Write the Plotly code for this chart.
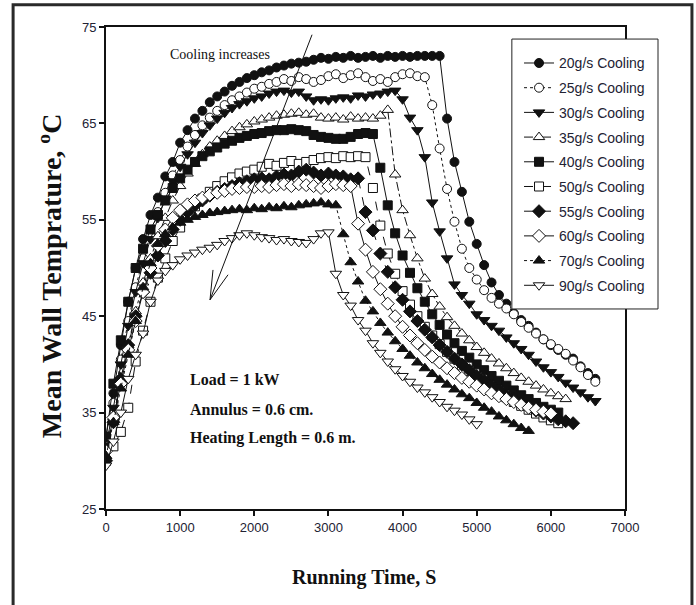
import plotly.graph_objects as go

# Mean wall temperature (deg C) sampled every 100 s, one list per cooling flow rate
step_s = 100

temp_20 = [32.5, 37, 42, 46.5, 50, 53, 55.5, 57.3, 59.5, 61, 63, 64.3, 65.5, 66.3, 67.2, 67.8,
           68.3, 68.9, 69.3, 69.7, 70, 70.3, 70.5, 70.8, 71, 71.2, 71.3, 71.4, 71.6, 71.8, 71.7,
           71.9, 71.8, 72, 71.8, 71.9, 72, 71.8, 72, 71.9, 72, 71.9, 72, 72, 72, 72,
           65.5, 61, 57.9, 54.8, 52.5, 50.3, 48.5, 47.2, 46.3, 45.3, 44.6, 44, 43.3, 42.6, 42,
           41.5, 41, 40.6, 39.8, 39.1, 38.5]
temp_25 = [31, 36, 40.5, 44.5, 48, 51, 53.5, 55.8, 57.8, 59.6, 61.2, 62.6, 63.8, 64.8, 65.6,
           66.3, 66.9, 67.4, 67.8, 68.2, 68.6, 68.8, 69.1, 69.3, 69.6, 69.4, 69.8, 69.6, 69.3,
           69.5, 69.9, 70.1, 69.7, 70, 70.2, 69.8, 69.4, 69.6, 69.3, 69.8, 70.1, 70.2, 69.9, 69.8,
           66.9, 62.4, 58.2, 54.8, 52, 50, 48.8, 47.7, 46.9, 46.3, 45.8, 45.2, 44.4, 43.8, 43.2,
           42.6, 42.1, 41.6, 41.1, 40.4, 39.7, 38.9, 38.2]
temp_30 = [31.5, 35.5, 40, 44, 47.5, 50.5, 53, 55.2, 57.2, 59, 60.5, 61.8, 63, 64, 64.8, 65.5,
           66.1, 66.6, 67, 67.3, 67.6, 67.8, 68.1, 68.3, 68.4, 68.2, 68.3, 67.8, 67.4, 67.5, 67.4,
           67.6, 67.7, 67.6, 67.9, 67.8, 68, 68.1, 68.3, 68.4, 67.5,
           65.6, 64.3, 61.5, 56.8, 53.8, 51, 48.3, 47.2, 46.3, 45.2, 44.6, 44, 43.5, 42.8, 42.2,
           41.6, 41, 40.3, 39.7, 39.2, 38.7, 38.1, 37.6, 37.1, 36.6, 36.2]
temp_35 = [30.5, 34.5, 38.5, 42, 45.5, 48.5, 51, 53.3, 55.2, 57, 58.5, 59.8, 60.8, 61.8, 62.6,
           63.2, 63.7, 64.2, 64.6, 64.9, 65.2, 65.4, 65.6, 65.8, 65.9, 66, 66.1, 65.9, 66, 65.6,
           65.5, 65.6, 65.4, 65.7, 65.5, 65.6, 65.5, 65.8, 66.4,
           59.7, 56, 53.4, 51, 48.9, 47.3, 46, 44.9, 44, 43.2, 42.5, 41.8, 41.2, 40.6, 40.1, 39.6,
           39.1, 38.6, 38.2, 37.8, 37.4, 37, 36.7, 36.4]
temp_40 = [32.5, 38, 42.5, 46.5, 50, 52, 54, 55.5, 57, 58.3, 59.3, 60.2, 61, 61.6, 62.1, 62.5,
           62.9, 63.2, 63.5, 63.7, 63.9, 64, 64.2, 64.3, 64.3, 64.4, 64.3, 64.2, 63.8, 63.6, 63.5,
           63.4, 63.4, 63.6, 63.9, 64, 63.9,
           60.4, 56.5, 53.6, 51.3, 49.5, 47.9, 46.5, 45.2, 44.1, 43.1, 42.2, 41.4, 40.7, 40, 39.4,
           38.8, 38.3, 37.8, 37.3, 36.8, 36.4, 36, 35.6, 35.3, 35]
temp_50 = [30, 31.5, 33, 35.5, 40.3, 43.5, 46.5, 49, 51, 52.8, 54.2, 55.4, 56.4, 57.2, 57.9,
           58.5, 59, 59.4, 59.8, 60, 60.2, 60.5, 60.8, 60.6, 60.9, 61.1, 60.8, 61, 61.2, 61.4,
           61.5, 61.4, 61.6, 61.5, 61.6, 61.5,
           58.3, 54.4, 51.5, 49.4, 47.6, 46.2, 45, 43.9, 43, 42.1, 41.3, 40.6, 39.9, 39.3, 38.7,
           38.1, 37.6, 37.1, 36.6, 36.1, 35.7, 35.3, 34.9, 34.5, 34.2, 33.9]
temp_55 = [30, 34, 38.5, 42, 45, 47.5, 49.5, 51.3, 52.8, 54, 55, 55.8, 56.5, 57, 57.5, 57.9,
           58.2, 58.5, 58.8, 59, 59.2, 59.3, 59.2, 59.5, 59.7, 59.6, 60, 60.2, 59.9, 59.6, 59.8,
           59.6, 59.5, 59.2, 59.3,
           55.8, 53.9, 51.5, 49.6, 48, 46.7, 45.5, 44.5, 43.6, 42.8, 42, 41.3, 40.6, 40, 39.4,
           38.8, 38.3, 37.8, 37.3, 36.8, 36.4, 36, 35.6, 35.2, 34.9, 34.6, 34.3, 34.1, 33.9]
temp_60 = [31, 34.5, 38, 41.5, 44.5, 47.5, 50, 52.3, 54, 55.2, 56, 56.6, 57, 57.3, 57.6, 57.8,
           58, 58.2, 58.3, 58.4, 58.4, 58.5, 58.4, 58.6, 58.7, 58.5, 58.7, 58.6, 58.5, 58.3, 58.5,
           58.7, 58.6, 58.5,
           54.6, 51.9, 49.6, 47.8, 46.3, 45, 43.9, 43, 42.2, 41.5, 40.8, 40.2, 39.6, 39.1, 38.6,
           38.2, 37.8, 37.4, 37, 36.7, 36.4, 36.1, 35.8, 35.5, 35.3, 35.1, 34.9]
temp_70 = [30.5, 34, 37.5, 41, 44.5, 48, 50.5, 52.5, 53.5, 54.2, 54.7, 55, 55.3, 55.5, 55.7,
           55.8, 55.9, 56, 56.1, 56, 56.2, 56.1, 56.3, 56.2, 56.4, 56.3, 56.5, 56.6, 56.7, 56.8,
           56.6, 56.5,
           53.5, 50.6, 48.6, 46.6, 45.5, 44.3, 43.3, 42.4, 41.6, 40.9, 40.2, 39.6, 39, 38.4, 37.9,
           37.4, 36.9, 36.5, 36, 35.5, 35.1, 34.6, 34.2, 33.8, 33.4, 33.1]
temp_90 = [29.5, 32, 35, 38.5, 41, 43.2, 46.5, 48.7, 49.7, 50.3, 50.9, 51.3, 51.6, 51.9, 52.1,
           52.4, 52.8, 53.1, 53.4, 53.6, 53.4, 53.2, 53.1, 52.9, 53, 52.8, 52.7, 52.6, 53, 53.6,
           53.7,
           49.4, 47.2, 46.1, 44.6, 43.5, 42.2, 41.2, 40.3, 39.5, 38.8, 38.2, 37.6, 37.1, 36.6,
           36.1, 35.6, 35.2, 34.8, 34.3, 33.8]

series_names = ["20g/s Cooling", "25g/s Cooling", "30g/s Cooling", "35g/s Cooling",
                "40g/s Cooling", "50g/s Cooling", "55g/s Cooling", "60g/s Cooling",
                "70g/s Cooling", "90g/s Cooling"]
series_values = [temp_20, temp_25, temp_30, temp_35, temp_40,
                 temp_50, temp_55, temp_60, temp_70, temp_90]

x_ticks = [0, 1000, 2000, 3000, 4000, 5000, 6000, 7000]
y_ticks = [25, 35, 45, 55, 65, 75]

# marker symbol, filled?, line dash, marker size
styles = [
    ("circle", True, "solid", 9),
    ("circle", False, "dot", 9),
    ("triangle-down", True, "solid", 10),
    ("triangle-up", False, "dashdot", 10),
    ("square", True, "solid", 9),
    ("square", False, "dash", 9),
    ("diamond", True, "dash", 10),
    ("diamond", False, "solid", 10),
    ("triangle-up", True, "dot", 10),
    ("triangle-down", False, "solid", 10),
]

INK = "#111111"
SERIF = "Times New Roman, Liberation Serif, serif"
SANS = "Arial, Liberation Sans, sans-serif"

fig = go.Figure()
for name, vals, (sym, filled, dash, msize) in zip(series_names, series_values, styles):
    times = [i * step_s for i in range(len(vals))]
    fig.add_trace(go.Scatter(
        x=times, y=vals, name=name, mode="lines+markers", legendgroup=name,
        line=dict(color=INK, width=1, dash=dash),
        marker=dict(symbol=sym, size=msize, color=INK if filled else "white",
                    line=dict(color=INK, width=1)),
    ))

axis_common = dict(showgrid=False, zeroline=False, showline=True, mirror=True,
                   linecolor=INK, linewidth=2, ticks="outside", ticklen=5,
                   tickwidth=1.5, tickcolor=INK,
                   tickfont=dict(family=SANS, size=13, color="#222233"))

fig.update_layout(
    width=696, height=605,
    margin=dict(l=106, r=71, t=27, b=96),
    paper_bgcolor="white", plot_bgcolor="white",
    showlegend=True,
    legend=dict(x=0.7958, y=0.9577, xanchor="left", yanchor="top",
                bgcolor="rgba(0,0,0,0)", borderwidth=0,
                tracegroupgap=3.5,
                font=dict(family=SANS, size=14, color="#222233")),
    xaxis=dict(range=[0, 7000], tickvals=x_ticks, **axis_common),
    yaxis=dict(range=[25, 75], tickvals=y_ticks, **axis_common),
)

# white legend panel with a thin border, covering the right edge of the plot frame
fig.add_shape(type="rect", xref="paper", yref="paper", x0=0.782, x1=1.0636,
              y0=0.415, y1=0.975, fillcolor="white",
              line=dict(color="#222222", width=1), layer="above")

# axis titles
fig.add_annotation(x=0.497, y=-0.143, xref="paper", yref="paper", showarrow=False,
                   xanchor="center", yanchor="middle",
                   text="<b>Running Time, S</b>",
                   font=dict(family=SERIF, size=20, color=INK))
fig.add_annotation(x=-0.108, y=0.485, xref="paper", yref="paper", showarrow=False,
                   xanchor="center", yanchor="middle",
                   textangle=-90, text="<b>Mean Wall Temprature, <sup>o</sup>C</b>",
                   font=dict(family=SERIF, size=28, color=INK))

# trend note with a hand-drawn style arrow
fig.add_annotation(x=1538, y=72.1, xref="x", yref="y", showarrow=False,
                   text="Cooling increases", font=dict(family=SERIF, size=14, color=INK))
arrow_tail = (2779, 74.2)
arrow_tip = (1403, 46.7)
arrow_barbs = [(1443, 49.8), (1646, 49.3)]
fig.add_shape(type="line", xref="x", yref="y", x0=arrow_tail[0], y0=arrow_tail[1],
              x1=arrow_tip[0], y1=arrow_tip[1], line=dict(color=INK, width=1))
for bx, by in arrow_barbs:
    fig.add_shape(type="line", xref="x", yref="y", x0=arrow_tip[0], y0=arrow_tip[1],
                  x1=bx, y1=by, line=dict(color=INK, width=1))

# test conditions
for label, yv in [("Load = 1 kW", 38.4), ("Annulus = 0.6 cm.", 35.3),
                  ("Heating Length = 0.6 m.", 32.4)]:
    fig.add_annotation(x=1107, y=yv, xref="x", yref="y", xanchor="left", showarrow=False,
                       text="<b>" + label + "</b>", font=dict(family=SERIF, size=16, color=INK))

# outer frame round the whole figure
fig.add_shape(type="rect", xref="paper", yref="paper", x0=-0.179, x1=1.129,
              y0=-0.25, y1=1.046, line=dict(color="#2a2a2a", width=3), layer="below")

fig.write_html("out.html")
